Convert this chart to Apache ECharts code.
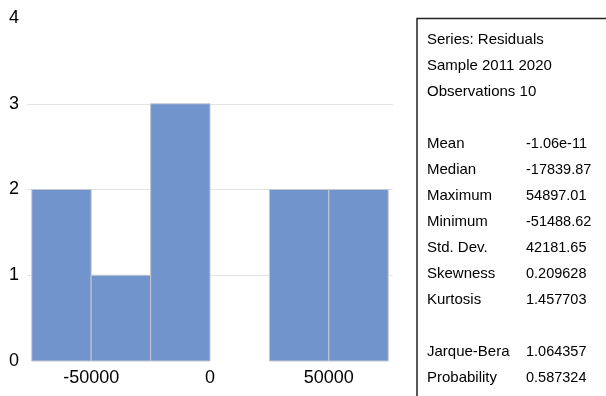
<!DOCTYPE html>
<html>
<head>
<meta charset="utf-8">
<script src="https://cdn.jsdelivr.net/npm/echarts@6/dist/echarts.min.js"></script>
<style>
  html, body { margin: 0; padding: 0; background: #fff; }
  #chart { width: 606px; height: 396px; }
</style>
</head>
<body>
<div id="chart"></div>
<script>
// Histogram bins of the residuals (bin edges and counts)
const binStarts = [-75000, -50000, -25000, 0, 25000, 50000];
const binEnds   = [-50000, -25000, 0, 25000, 50000, 75000];
const counts    = [2, 1, 3, 0, 2, 2];

// x tick labels
const xTicks = [-50000, 0, 50000];

// Summary statistics panel
const headerLines = ['Series: Residuals', 'Sample 2011 2020', 'Observations 10'];
const statLabels  = ['Mean', 'Median', 'Maximum', 'Minimum', 'Std. Dev.', 'Skewness', 'Kurtosis'];
const statValues  = ['-1.06e-11', '-17839.87', '54897.01', '-51488.62', '42181.65', '0.209628', '1.457703'];
const testLabels  = ['Jarque-Bera', 'Probability'];
const testValues  = ['1.064357', '0.587324'];

const FONT = 'Liberation Sans, Arial, sans-serif';
const chart = echarts.init(document.getElementById('chart'), null, { renderer: 'canvas' });

const barData = counts.map((c, i) => [binStarts[i], binEnds[i], c]);

// Stats panel text elements
const panelText = [];
const lineH = 26;
let y = 40;
function addRow(label, value) {
  panelText.push({ type: 'text', x: 427, y: y, style: { text: label, font: '15px ' + FONT, fill: '#000', textVerticalAlign: 'middle' } });
  if (value !== undefined) {
    panelText.push({ type: 'text', x: 526, y: y, style: { text: value, font: '14.5px ' + FONT, fill: '#000', textVerticalAlign: 'middle' } });
  }
  y += lineH;
}
headerLines.forEach(t => addRow(t));
y += lineH;
statLabels.forEach((t, i) => addRow(t, statValues[i]));
y += lineH;
testLabels.forEach((t, i) => addRow(t, testValues[i]));

chart.setOption({
  animation: false,
  backgroundColor: '#fff',
  grid: { left: 27, right: 213, top: 18, bottom: 35, containLabel: false },
  xAxis: {
    type: 'value',
    min: -77000,
    max: 77000,
    axisLine: { show: false },
    axisTick: { show: false },
    splitLine: { show: false },
    axisLabel: {
      customValues: xTicks,
      formatter: v => String(v),
      fontSize: 18,
      fontFamily: FONT,
      color: '#000',
      margin: 8
    }
  },
  yAxis: {
    type: 'value',
    min: 0,
    max: 4,
    interval: 1,
    axisLine: { show: false },
    axisTick: { show: false },
    axisLabel: { fontSize: 18, fontFamily: FONT, color: '#000', margin: 8 },
    splitLine: {
      show: true,
      lineStyle: { color: ['rgba(0,0,0,0)', '#e3e3e3', '#e3e3e3', '#e3e3e3', 'rgba(0,0,0,0)'], width: 1 }
    }
  },
  series: [{
    type: 'custom',
    data: barData,
    encode: { x: [0, 1], y: 2 },
    renderItem: function (params, api) {
      const c = api.value(2);
      if (!c) return null;
      const p0 = api.coord([api.value(0), c]);
      const p1 = api.coord([api.value(1), 0]);
      return {
        type: 'rect',
        shape: { x: p0[0], y: p0[1], width: p1[0] - p0[0], height: p1[1] - p0[1] },
        style: { fill: '#7294cc', stroke: '#c4c8cf', lineWidth: 1 }
      };
    }
  }],
  graphic: [
    {
      type: 'polyline',
      shape: { points: [[417, 400], [417, 18.5], [610, 18.5]] },
      style: { stroke: '#222', lineWidth: 1.5, fill: null }
    }
  ].concat(panelText)
});
</script>
</body>
</html>
